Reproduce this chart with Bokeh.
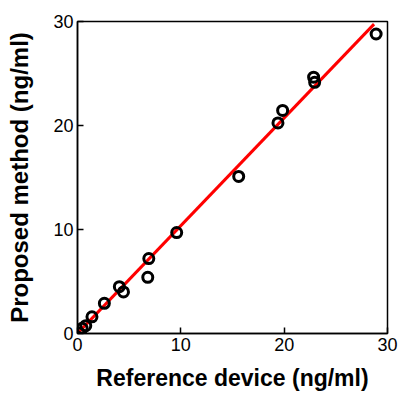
from bokeh.plotting import figure
from bokeh.models import Range1d, FixedTicker
from bokeh.embed import file_html
from bokeh.resources import INLINE

# Data
ref_x = [0.15, 0.45, 0.8, 1.4, 2.6, 4.05, 4.45, 6.8, 6.9, 9.6, 15.6, 19.4, 19.85, 22.85, 22.95, 28.9]
prop_y = [0.05, 0.5, 0.75, 1.6, 2.9, 4.5, 4.0, 5.4, 7.2, 9.7, 15.1, 20.25, 21.45, 24.65, 24.15, 28.8]
fit_x = [0.0, 28.7]
fit_y = [0.0, 29.75]
ticks = [0, 10, 20, 30]

FONT = "Liberation Sans"

p = figure(width=400, height=393, output_backend="svg", toolbar_location=None,
           x_range=Range1d(0, 30), y_range=Range1d(0, 30),
           min_border_left=77, min_border_right=13, min_border_top=21, min_border_bottom=60)

p.line(fit_x, fit_y, line_color="#ff0000", line_width=3)
p.scatter(ref_x, prop_y, marker="circle", size=10, fill_color=None,
          line_color="black", line_width=3)

p.xgrid.visible = False
p.ygrid.visible = False
p.outline_line_color = "black"
p.outline_line_width = 1.5
p.outline_line_alpha = 1.0
p.background_fill_color = "white"
p.border_fill_color = "white"

for ax in (p.xaxis[0], p.yaxis[0]):
    ax.ticker = FixedTicker(ticks=ticks)
    ax.major_tick_in = 6
    ax.major_tick_out = 0
    ax.minor_tick_line_color = None
    ax.major_tick_line_width = 1.5
    ax.axis_line_width = 1.5
    ax.major_label_text_font = FONT
    ax.major_label_text_font_size = "18px"
    ax.major_label_text_color = "black"
    ax.axis_label_text_font = FONT
    ax.axis_label_text_font_style = "bold"
    ax.axis_label_text_color = "black"

p.xaxis.axis_label = "Reference device (ng/ml)"
p.yaxis.axis_label = "Proposed method (ng/ml)"
p.xaxis.axis_label_text_font_size = "23px"
p.yaxis.axis_label_text_font_size = "24px"
p.xaxis.major_label_standoff = 4
p.yaxis.major_label_standoff = 4
p.xaxis.axis_label_standoff = 11
p.yaxis.axis_label_standoff = 17

open("out.html", "w").write(file_html(p, INLINE))
